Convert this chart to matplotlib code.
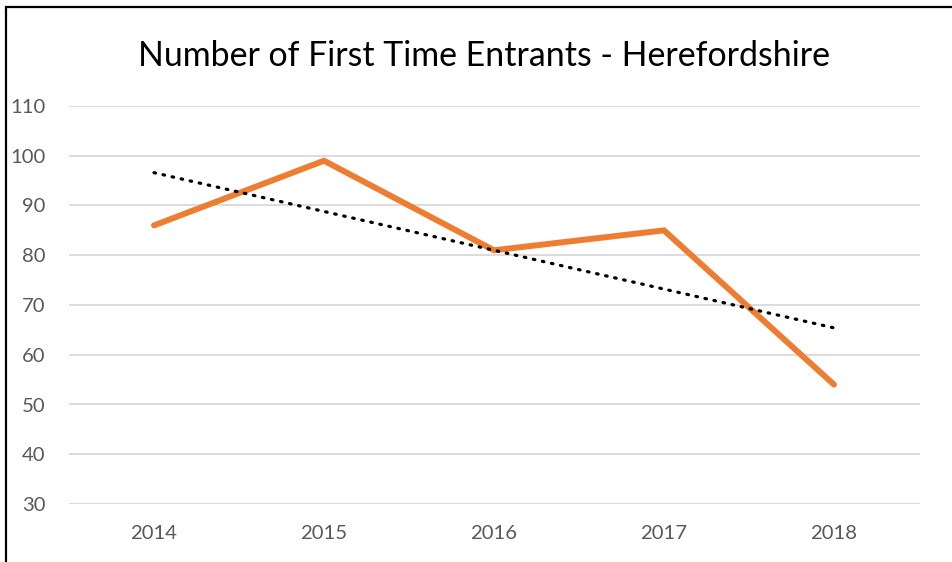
import matplotlib
matplotlib.use("Agg")
import matplotlib.pyplot as plt
import numpy as np
from matplotlib.patches import Rectangle

years = ["2014", "2015", "2016", "2017", "2018"]
entrants = [86, 99, 81, 85, 54]
y_ticks = [30, 40, 50, 60, 70, 80, 90, 100, 110]

W, H = 953, 562
plt.rcParams['font.family'] = ['Lato', 'DejaVu Sans']
fig = plt.figure(figsize=(W / 100, H / 100), dpi=100)

left, right = 69, 920
top, bottom = 106, 504
ax = fig.add_axes([left / W, 1 - bottom / H, (right - left) / W, (bottom - top) / H])

x = np.arange(len(years))
ax.plot(x, entrants, color="#ED7D31", lw=4.3, solid_joinstyle="miter",
        solid_capstyle="round", zorder=3)

# linear trendline computed from the data
coef = np.polyfit(x, entrants, 1)
ax.plot(x, np.polyval(coef, x), color="black", lw=2.3, linestyle=(0, (0.5, 2.4)),
        dash_capstyle="round", zorder=4)

first_px, px_per_cat = 154, 170
ax.set_xlim((left - first_px) / px_per_cat, (right - first_px) / px_per_cat)
ax.set_ylim(30, 110)
ax.set_yticks(y_ticks)
ax.set_xticks(x)
ax.set_xticklabels(years)
ax.grid(axis="y", color="#D9D9D9", lw=1.3)
ax.set_axisbelow(True)
for s in ax.spines.values():
    s.set_visible(False)
ax.tick_params(length=0, colors="#595959", labelsize=14.6)
ax.tick_params(axis="y", pad=17)
ax.tick_params(axis="x", pad=15)

fig.text(0.5 * (138 + 830) / W, 1 - 56 / H, "Number of First Time Entrants - Herefordshire",
         ha="center", va="center", fontsize=24.4, color="black")

fig.patches.append(Rectangle((6 / W, -0.1), 1.2, 1 - 7 / H + 0.1, transform=fig.transFigure,
                             fill=False, edgecolor="black", lw=1.6))

fig.savefig("out.png", dpi=100)
